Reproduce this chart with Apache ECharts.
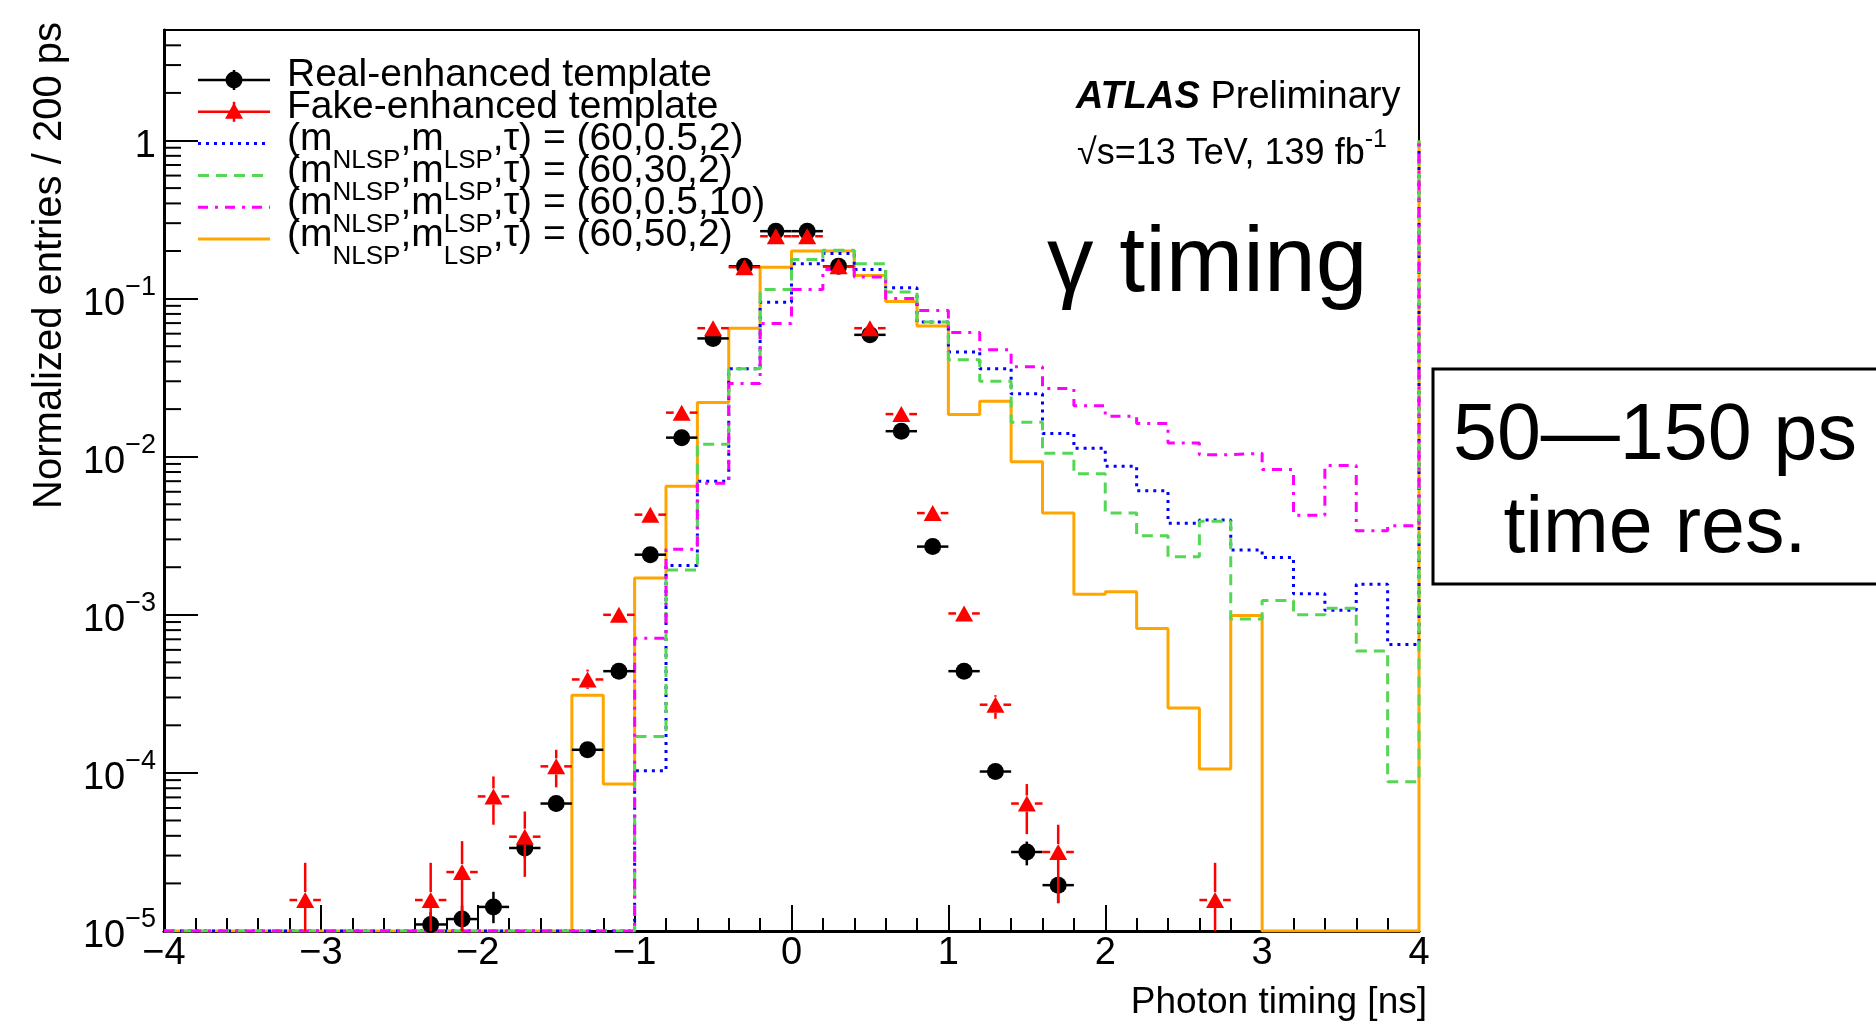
<!DOCTYPE html>
<html>
<head>
<meta charset="utf-8">
<title>Photon timing templates</title>
<script src="https://cdn.jsdelivr.net/npm/echarts@6/dist/echarts.min.js"></script>
<style>
  html, body { margin: 0; padding: 0; background: #ffffff; }
  #chart { width: 1876px; height: 1023px; }
</style>
</head>
<body>
<div id="chart"></div>
<script>
// 200 ps bins from -4 ns to 4 ns
const binEdges = [
  -4.0, -3.8, -3.6, -3.4, -3.2, -3.0, -2.8, -2.6, -2.4, -2.2,
  -2.0, -1.8, -1.6, -1.4, -1.2, -1.0, -0.8, -0.6, -0.4, -0.2,
  0.0, 0.2, 0.4, 0.6, 0.8, 1.0, 1.2, 1.4, 1.6, 1.8,
  2.0, 2.2, 2.4, 2.6, 2.8, 3.0, 3.2, 3.4, 3.6, 3.8, 4.0
];

// signal histograms (0 = empty bin)
const sigBlue = [
  0, 0, 0, 0, 0, 0, 0, 0, 0, 0, 0, 0, 0, 0, 0,
  1.03e-4, 2.05e-3, 7.0e-3, 3.6e-2, 0.095, 0.166, 0.193, 0.153, 0.117, 0.071,
  0.046, 0.036, 0.025, 0.014, 0.0113, 8.7e-3, 6.1e-3, 3.8e-3, 3.98e-3, 2.57e-3,
  2.3e-3, 1.36e-3, 1.07e-3, 1.56e-3, 6.5e-4
];
const sigGreen = [
  0, 0, 0, 0, 0, 0, 0, 0, 0, 0, 0, 0, 0, 0, 0,
  1.7e-4, 1.92e-3, 1.2e-2, 3.6e-2, 0.114, 0.177, 0.202, 0.166, 0.11, 0.071,
  0.041, 0.030, 0.0165, 1.05e-2, 7.8e-3, 4.4e-3, 3.16e-3, 2.33e-3, 3.9e-3, 9.4e-4,
  1.23e-3, 1.0e-3, 1.1e-3, 5.9e-4, 8.8e-5
];
const sigMagenta = [
  0, 0, 0, 0, 0, 0, 0, 0, 0, 0, 0, 0, 0, 0, 0,
  7.1e-4, 2.6e-3, 6.8e-3, 0.029, 0.0695, 0.114, 0.153, 0.137, 0.1, 0.084,
  0.061, 0.0475, 0.037, 0.027, 0.021, 0.018, 0.0162, 0.0122, 0.0103, 0.0105,
  8.3e-3, 4.27e-3, 8.8e-3, 3.4e-3, 3.66e-3
];
const sigOrange = [
  0, 0, 0, 0, 0, 0, 0, 0, 0, 0, 0, 0, 0,
  3.1e-4, 8.5e-5, 1.71e-3, 6.5e-3, 2.2e-2, 6.5e-2, 0.158, 0.2, 0.2, 0.14,
  0.096, 0.067, 0.0185, 0.0224, 9.3e-3, 4.4e-3, 1.35e-3, 1.4e-3, 8.2e-4, 2.57e-4,
  1.06e-4, 9.9e-4, 0, 0, 0, 0, 0
];
// all four histograms end with a line up to 1 at x = 4
const lastEdgeTop = 1.0;

// real-enhanced template (black)
const realX  = [-2.3, -2.1, -1.9, -1.7, -1.5, -1.3, -1.1, -0.9, -0.7, -0.5, -0.3, -0.1, 0.1, 0.3, 0.5, 0.7, 0.9, 1.1, 1.3, 1.5, 1.7];
const realY  = [1.1e-5, 1.19e-5, 1.42e-5, 3.35e-5, 6.4e-5, 1.4e-4, 4.4e-4, 2.4e-3, 1.32e-2, 5.6e-2, 0.16, 0.267, 0.267, 0.16, 0.059, 0.0145, 2.7e-3, 4.4e-4, 1.02e-4, 3.16e-5, 1.95e-5];
const realLo = [0.9e-5, 0.96e-5, 1.12e-5, 2.9e-5, 5.7e-5, 1.3e-4, 4.2e-4, 2.4e-3, 1.32e-2, 5.6e-2, 0.16, 0.267, 0.267, 0.16, 0.059, 0.0145, 2.7e-3, 4.2e-4, 0.92e-4, 2.6e-5, 1.5e-5];
const realHi = [1.32e-5, 1.45e-5, 1.77e-5, 3.9e-5, 7.1e-5, 1.5e-4, 4.6e-4, 2.4e-3, 1.32e-2, 5.6e-2, 0.16, 0.267, 0.267, 0.16, 0.059, 0.0145, 2.7e-3, 4.6e-4, 1.12e-4, 3.68e-5, 2.2e-5];

// fake-enhanced template (red), lower edge 0 = down to the axis
const fakeX  = [-3.1, -2.3, -2.1, -1.9, -1.7, -1.5, -1.3, -1.1, -0.9, -0.7, -0.5, -0.3, -0.1, 0.1, 0.3, 0.5, 0.7, 0.9, 1.1, 1.3, 1.5, 1.7, 2.7];
const fakeY  = [1.57e-5, 1.57e-5, 2.36e-5, 7.1e-5, 3.95e-5, 1.1e-4, 3.9e-4, 1.0e-3, 4.3e-3, 1.9e-2, 6.5e-2, 0.158, 0.248, 0.248, 0.16, 0.065, 0.0186, 4.4e-3, 1.02e-3, 2.7e-4, 6.4e-5, 3.16e-5, 1.57e-5];
const fakeLo = [0, 0, 0, 4.7e-5, 2.2e-5, 8.1e-5, 3.4e-4, 9.2e-4, 4.3e-3, 1.9e-2, 6.5e-2, 0.158, 0.248, 0.248, 0.16, 0.065, 0.0186, 4.2e-3, 9.2e-4, 2.2e-4, 4.1e-5, 1.5e-5, 0];
const fakeHi = [2.7e-5, 2.7e-5, 3.7e-5, 9.5e-5, 5.7e-5, 1.4e-4, 4.5e-4, 1.08e-3, 4.3e-3, 1.9e-2, 6.5e-2, 0.158, 0.248, 0.248, 0.16, 0.065, 0.0186, 4.6e-3, 1.12e-3, 3.1e-4, 8.5e-5, 4.7e-5, 2.7e-5];

// axis ticks and labels
const xTickLabels = ['\u22124', '\u22123', '\u22122', '\u22121', '0', '1', '2', '3', '4'];
const yDecades = [1e-5, 1e-4, 1e-3, 1e-2, 1e-1, 1];
const yDecadeLabels = ['{b|10}{s|\u22125}', '{b|10}{s|\u22124}', '{b|10}{s|\u22123}', '{b|10}{s|\u22122}', '{b|10}{s|\u22121}', '{b|1}'];

const legendNames = [
  'Real-enhanced template',
  'Fake-enhanced template',
  '{m|(m}{s|NLSP}{m|,m}{s|LSP}{m|,\u03c4) = (60,0.5,2)}',
  '{m|(m}{s|NLSP}{m|,m}{s|LSP}{m|,\u03c4) = (60,30,2)}',
  '{m|(m}{s|NLSP}{m|,m}{s|LSP}{m|,\u03c4) = (60,0.5,10)}',
  '{m|(m}{s|NLSP}{m|,m}{s|LSP}{m|,\u03c4) = (60,50,2)}'
];

const FONT = '"Liberation Sans", Arial, Helvetica, sans-serif';
const Y_MIN = 1e-5;
const Y_MAX = 5;
const HALF_BIN = 0.1;

const BLUE = '#0000ff';
const GREEN = '#55d655';
const MAGENTA = '#ff00ff';
const ORANGE = '#ffa500';
const RED = '#ff0000';

const DASH_BLUE = [3, 5];
const DASH_GREEN = [11, 7];
const DASH_MAGENTA = [10, 7, 3, 7];

// step histogram points, empty bins sit on the axis floor
function stepData(values) {
  const pts = values.map((v, i) => [binEdges[i], Math.max(v, Y_MIN)]);
  const last = binEdges[binEdges.length - 1];
  pts.push([last, Math.max(values[values.length - 1], Y_MIN)]);
  pts.push([last, lastEdgeTop]);
  return pts;
}

function histSeries(name, values, color, dash, z) {
  return {
    name: name,
    type: 'line',
    step: 'end',
    data: stepData(values),
    showSymbol: false,
    symbol: 'none',
    z: z,
    lineStyle: { color: color, width: 3, type: dash, cap: 'butt' },
    emphasis: { disabled: true },
    silent: true
  };
}

// error bars drawn with the axes' own coordinate mapping
function errorBars(color, gap) {
  return function (params, api) {
    const x = api.value(0);
    const y = api.value(1);
    const lo = Math.max(api.value(2), Y_MIN);
    const hi = api.value(3);
    const c = api.coord([x, y]);
    const left = api.coord([x - HALF_BIN, y])[0];
    const right = api.coord([x + HALF_BIN, y])[0];
    const top = api.coord([x, hi])[1];
    const bottom = api.coord([x, lo])[1];
    const style = { stroke: color, lineWidth: 2.5 };
    const children = [];
    if (c[0] - gap > left) children.push({ type: 'line', shape: { x1: left, y1: c[1], x2: c[0] - gap, y2: c[1] }, style: style });
    if (right > c[0] + gap) children.push({ type: 'line', shape: { x1: c[0] + gap, y1: c[1], x2: right, y2: c[1] }, style: style });
    if (c[1] - gap > top) children.push({ type: 'line', shape: { x1: c[0], y1: top, x2: c[0], y2: c[1] - gap }, style: style });
    if (bottom > c[1] + gap) children.push({ type: 'line', shape: { x1: c[0], y1: c[1] + gap, x2: c[0], y2: bottom }, style: style });
    return { type: 'group', children: children };
  };
}

// minor log ticks 2..9 per decade
const yMinorTicks = [];
yDecades.forEach(function (d) {
  for (let k = 2; k <= 9; k++) {
    if (k * d < Y_MAX) yMinorTicks.push(k * d);
  }
});

const chart = echarts.init(document.getElementById('chart'), null, { renderer: 'canvas', devicePixelRatio: 1 });

// legend drawn by hand (ROOT-style overlapping rows)
const LEG_X0 = 198, LEG_X1 = 270, LEG_TEXT_X = 287;
const legRowY = [80, 111.8, 143.6, 175.4, 207.2, 239];
const legStyles = [
  { color: '#000000', dash: 'solid', marker: 'circle' },
  { color: RED, dash: 'solid', marker: 'triangle' },
  { color: BLUE, dash: DASH_BLUE },
  { color: GREEN, dash: DASH_GREEN },
  { color: MAGENTA, dash: DASH_MAGENTA },
  { color: ORANGE, dash: 'solid' }
];
const legendGraphics = [];
legRowY.forEach(function (ly, i) {
  const st = legStyles[i];
  legendGraphics.push({
    type: 'line', z: 20,
    shape: { x1: LEG_X0, y1: ly, x2: LEG_X1, y2: ly },
    style: { stroke: st.color, lineWidth: i < 2 ? 2.5 : 3, lineDash: st.dash === 'solid' ? null : st.dash }
  });
  const mx = (LEG_X0 + LEG_X1) / 2;
  if (st.marker) {
    legendGraphics.push({
      type: 'line', z: 20,
      shape: { x1: mx, y1: ly - 10, x2: mx, y2: ly + 10 },
      style: { stroke: st.color, lineWidth: 2.5 }
    });
  }
  if (st.marker === 'circle') {
    legendGraphics.push({ type: 'circle', z: 21, shape: { cx: mx, cy: ly, r: 8.5 }, style: { fill: '#000000' } });
  } else if (st.marker === 'triangle') {
    legendGraphics.push({ type: 'polygon', z: 21, shape: { points: [[mx, ly - 9], [mx + 9, ly + 7], [mx - 9, ly + 7]] }, style: { fill: RED } });
  }
  if (i < 2) {
    legendGraphics.push({
      type: 'text', z: 22, x: LEG_TEXT_X, y: ly - 4.5,
      style: { text: legendNames[i], font: '39px ' + FONT, fill: '#000', align: 'left', verticalAlign: 'middle' }
    });
  } else {
    legendGraphics.push({
      type: 'text', z: 22, x: LEG_TEXT_X, y: ly - 6.5 - 17,
      style: {
        text: legendNames[i], fill: '#000', align: 'left', verticalAlign: 'top',
        rich: {
          m: { fontSize: 39, fontFamily: FONT, lineHeight: 54, verticalAlign: 'top', fill: '#000' },
          s: { fontSize: 26, fontFamily: FONT, lineHeight: 20, verticalAlign: 'bottom', fill: '#000' }
        }
      }
    });
  }
});

const option = {
  animation: false,
  backgroundColor: '#ffffff',
  grid: {
    left: 164, right: 457, top: 30, bottom: 92,
    show: true, borderColor: '#000000', borderWidth: 2,
    backgroundColor: 'transparent',
    containLabel: false,
    outerBoundsMode: 'none'
  },
  xAxis: {
    type: 'value',
    min: -4, max: 4, interval: 1,
    axisLine: { show: true, onZero: false, lineStyle: { color: '#000', width: 3 } },
    axisTick: { show: true, inside: true, length: 26, lineStyle: { color: '#000', width: 2 } },
    minorTick: { show: true, splitNumber: 5, length: 13, lineStyle: { color: '#000', width: 2 } },
    splitLine: { show: false },
    axisLabel: {
      color: '#000', fontSize: 38, fontFamily: FONT, margin: 4,
      formatter: function (v) { return xTickLabels[Math.round(v) + 4]; }
    }
  },
  yAxis: {
    type: 'log',
    logBase: 10,
    min: Y_MIN, max: Y_MAX,
    splitNumber: 6,
    axisLine: { show: true, onZero: false, lineStyle: { color: '#000', width: 3 } },
    axisTick: { show: true, inside: true, length: 34, lineStyle: { color: '#000', width: 2 } },
    splitLine: { show: false },
    axisLabel: {
      color: '#000', margin: 8, fontFamily: FONT,
      formatter: function (v) {
        const e = Math.log10(v);
        const r = Math.round(e);
        if (Math.abs(e - r) > 1e-6) return '';
        const idx = yDecades.findIndex(function (d) { return Math.abs(Math.log10(d) - r) < 1e-6; });
        return idx >= 0 ? yDecadeLabels[idx] : '';
      },
      rich: {
        b: { fontSize: 38, fontFamily: FONT, color: '#000', lineHeight: 50, verticalAlign: 'bottom' },
        s: { fontSize: 27, fontFamily: FONT, color: '#000', lineHeight: 16, verticalAlign: 'top' }
      }
    }
  },
  graphic: legendGraphics.concat([
    {
      type: 'text', z: 20, x: 50, y: 22, rotation: Math.PI / 2,
      style: { text: 'Normalized entries / 200 ps', font: '40px ' + FONT, fill: '#000', align: 'right', verticalAlign: 'middle' }
    },
    {
      type: 'text', z: 20, x: 1427, y: 1003,
      style: { text: 'Photon timing [ns]', font: '37px ' + FONT, fill: '#000', align: 'right', verticalAlign: 'middle' }
    },
    {
      type: 'text', z: 20, x: 1076, y: 98,
      style: {
        text: '{a|ATLAS}{p| Preliminary}', align: 'left', verticalAlign: 'middle',
        rich: {
          a: { fontSize: 38, fontFamily: FONT, fontWeight: 'bold', fontStyle: 'italic', fill: '#000' },
          p: { fontSize: 38, fontFamily: FONT, fill: '#000' }
        }
      }
    },
    {
      type: 'text', z: 20, x: 1077, y: 150 - 22,
      style: {
        text: '{m|\u221as=13 TeV, 139 fb}{s|-1}', align: 'left', verticalAlign: 'top',
        rich: {
          m: { fontSize: 36, fontFamily: FONT, lineHeight: 44, verticalAlign: 'bottom', fill: '#000' },
          s: { fontSize: 25, fontFamily: FONT, lineHeight: 16, verticalAlign: 'top', fill: '#000' }
        }
      }
    },
    {
      type: 'text', z: 20, x: 1047, y: 265,
      style: { text: '\u03b3 timing', font: '93px ' + FONT, fill: '#000', align: 'left', verticalAlign: 'middle' }
    },
    {
      type: 'rect', z: 20,
      shape: { x: 1433, y: 369, width: 450, height: 215 },
      style: { fill: 'none', stroke: '#000', lineWidth: 3 }
    },
    {
      type: 'text', z: 20, x: 1655, y: 437,
      style: { text: '50\u2014150 ps', font: '79px ' + FONT, fill: '#000', align: 'center', verticalAlign: 'middle' }
    },
    {
      type: 'text', z: 20, x: 1655, y: 530,
      style: { text: 'time res.', font: '79px ' + FONT, fill: '#000', align: 'center', verticalAlign: 'middle' }
    }
  ]),
  series: [
    histSeries('(60,50,2)', sigOrange, ORANGE, 'solid', 2),
    histSeries('(60,0.5,2)', sigBlue, BLUE, DASH_BLUE, 2),
    histSeries('(60,30,2)', sigGreen, GREEN, DASH_GREEN, 2),
    histSeries('(60,0.5,10)', sigMagenta, MAGENTA, DASH_MAGENTA, 2),
    {
      name: 'real errors', type: 'custom', z: 3, silent: true,
      renderItem: errorBars('#000000', 0),
      encode: { x: 0, y: 1 },
      data: realX.map(function (x, i) { return [x, realY[i], realLo[i], realHi[i]]; })
    },
    {
      name: 'Real-enhanced template', type: 'scatter', z: 4, silent: true,
      symbol: 'circle', symbolSize: 17,
      itemStyle: { color: '#000000', opacity: 1 },
      data: realX.map(function (x, i) { return [x, realY[i]]; })
    },
    {
      name: 'fake errors', type: 'custom', z: 5, silent: true,
      renderItem: errorBars(RED, 8),
      encode: { x: 0, y: 1 },
      data: fakeX.map(function (x, i) { return [x, fakeY[i], fakeLo[i], fakeHi[i]]; })
    },
    {
      name: 'Fake-enhanced template', type: 'scatter', z: 6, silent: true,
      symbol: 'triangle', symbolSize: [18, 16],
      itemStyle: { color: RED, opacity: 1 },
      data: fakeX.map(function (x, i) { return [x, fakeY[i]]; })
    },
    {
      name: 'y minor ticks', type: 'custom', z: 7, silent: true,
      encode: { x: 0, y: 1 },
      renderItem: function (params, api) {
        const p = api.coord([-4, api.value(1)]);
        return { type: 'line', shape: { x1: p[0], y1: p[1], x2: p[0] + 17, y2: p[1] }, style: { stroke: '#000', lineWidth: 2 } };
      },
      data: yMinorTicks.map(function (v) { return [-4, v]; })
    }
  ]
};

chart.setOption(option);
window.addEventListener('resize', function () { chart.resize(); });
</script>
</body>
</html>
